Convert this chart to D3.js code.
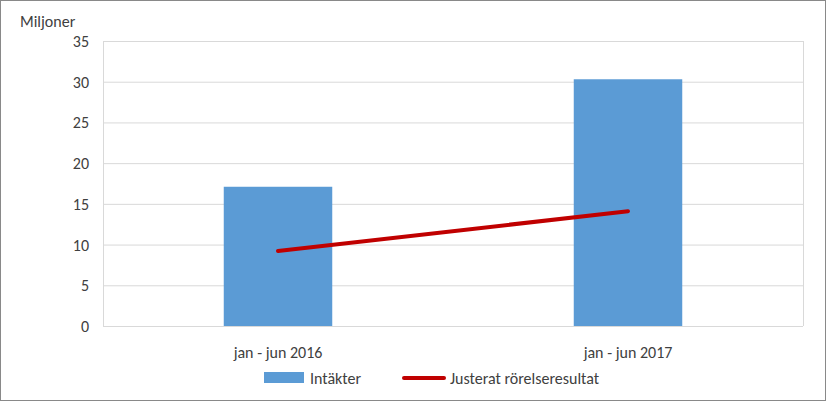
<!DOCTYPE html>
<html><head><meta charset="utf-8">
<script src="https://cdn.jsdelivr.net/npm/d3@7"></script>
<style>body{margin:0;background:#fff}svg{display:block;font-family:Calibri,"Liberation Sans",Arial,sans-serif}</style>
</head><body>
<svg id="c" width="826" height="401"></svg>
<script>
const categories = ["jan - jun 2016", "jan - jun 2017"];
const intakter = [17.1, 30.3];
const justerat = [9.2, 14.1];
const yTicks = [0, 5, 10, 15, 20, 25, 30, 35];

const svg = d3.select("#c");
const m = {left: 103, right: 803, top: 41, bottom: 326};
svg.append("rect").attr("x", 0.5).attr("y", 0.5).attr("width", 825).attr("height", 400)
  .attr("fill", "#fff").attr("stroke", "#898989");

const x = d3.scaleBand().domain(categories).range([m.left, m.right]).paddingInner(0.69).paddingOuter(0.345);
const y = d3.scaleLinear().domain([0, 35]).range([m.bottom, m.top]);

svg.append("g").selectAll("line").data(yTicks).join("line")
  .attr("x1", m.left).attr("x2", m.right)
  .attr("y1", d => y(d) + 0.5).attr("y2", d => y(d) + 0.5)
  .attr("stroke", "#d9d9d9");
svg.append("g").selectAll("line").data([m.left, m.right]).join("line")
  .attr("x1", d => d + 0.5).attr("x2", d => d + 0.5).attr("y1", m.top).attr("y2", m.bottom)
  .attr("stroke", "#d9d9d9");

svg.append("g").selectAll("text").data(yTicks).join("text")
  .attr("x", 89).attr("y", d => y(d) + 6).attr("text-anchor", "end")
  .attr("font-size", 16).attr("fill", "#404040").text(d => d);

svg.append("text").attr("x", 20).attr("y", 27).attr("font-size", 16).attr("fill", "#404040").text("Miljoner");

svg.append("g").selectAll("rect").data(intakter).join("rect")
  .attr("x", (d, i) => x(categories[i])).attr("width", x.bandwidth())
  .attr("y", d => y(d)).attr("height", d => y(0) - y(d)).attr("fill", "#5b9bd5");

const line = d3.line().x((d, i) => x(categories[i]) + x.bandwidth() / 2).y(d => y(d));
svg.append("path").attr("d", line(justerat)).attr("fill", "none")
  .attr("stroke", "#c00000").attr("stroke-width", 4).attr("stroke-linecap", "round");

svg.append("g").selectAll("text").data(categories).join("text")
  .attr("x", d => x(d) + x.bandwidth() / 2).attr("y", 358).attr("text-anchor", "middle")
  .attr("font-size", 16).attr("fill", "#404040").text(d => d);

const lg = svg.append("g");
lg.append("rect").attr("x", 264).attr("y", 372).attr("width", 40).attr("height", 11).attr("fill", "#5b9bd5");
lg.append("text").attr("x", 310).attr("y", 384).attr("font-size", 16).attr("fill", "#404040").text("Intäkter");
lg.append("line").attr("x1", 404).attr("x2", 444).attr("y1", 378).attr("y2", 378)
  .attr("stroke", "#c00000").attr("stroke-width", 4).attr("stroke-linecap", "round");
lg.append("text").attr("x", 450).attr("y", 384).attr("font-size", 16).attr("fill", "#404040").text("Justerat rörelseresultat");
</script>
</body></html>
